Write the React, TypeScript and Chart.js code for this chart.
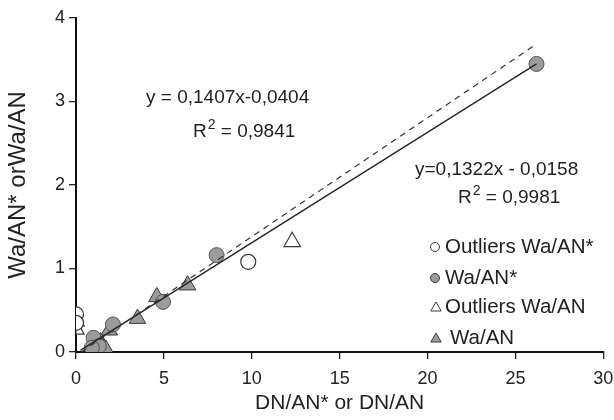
import React, { useEffect, useRef } from "react";
import { Chart, registerables } from "chart.js";

Chart.register(...registerables);

const outliersWaANStar = [
  { x: 0, y: 0.45 },
  { x: 0, y: 0.35 },
  { x: 9.8, y: 1.08 },
];
const waANStar = [
  { x: 26.2, y: 3.45 },
  { x: 8.0, y: 1.16 },
  { x: 4.95, y: 0.6 },
  { x: 2.1, y: 0.33 },
  { x: 1.0, y: 0.17 },
  { x: 1.3, y: 0.07 },
  { x: 0.9, y: 0.05 },
];
const outliersWaAN = [
  { x: 0, y: 0.27 },
  { x: 0, y: 0.37 },
  { x: 12.3, y: 1.32 },
];
const waAN = [
  { x: 6.35, y: 0.8 },
  { x: 4.6, y: 0.66 },
  { x: 3.5, y: 0.4 },
  { x: 1.9, y: 0.26 },
  { x: 1.4, y: 0.12 },
  { x: 1.5, y: 0.06 },
  { x: 1.1, y: 0.04 },
  { x: 1.7, y: 0.03 },
];
const fitSolid = [
  { x: 0.25, y: 0.02 },
  { x: 26.2, y: 3.45 },
];
const fitDashed = [
  { x: 0.3, y: 0.0 },
  { x: 26.0, y: 3.66 },
];
const eqLeft = "y = 0,1407x-0,0404";
const r2Left = "0,9841";
const eqRight = "y=0,1322x - 0,0158";
const r2Right = "0,9981";
const legendLabels = ["Outliers Wa/AN*", "Wa/AN*", "Outliers Wa/AN", "Wa/AN"];
const xTitle = "DN/AN* or DN/AN";
const yTitle = "Wa/AN* orWa/AN";

const FONT = "'Liberation Sans', Arial, Helvetica, sans-serif";
const GREY = "#9b9b9b";
const EDGE = "#3a3a3a";

export default function App() {
  const ref = useRef<HTMLCanvasElement | null>(null);
  useEffect(() => {
    document.body.style.margin = "0";
    const canvas = ref.current!;
    const drawR2 = (ctx: CanvasRenderingContext2D, x: number, y: number, val: string) => {
      ctx.font = `19px ${FONT}`;
      ctx.textBaseline = "middle";
      ctx.textAlign = "left";
      ctx.fillText("R", x, y);
      const w = ctx.measureText("R").width;
      ctx.font = `14px ${FONT}`;
      ctx.fillText("2", x + w + 1, y - 7);
      const w2 = ctx.measureText("2").width;
      ctx.font = `19px ${FONT}`;
      ctx.fillText(" = " + val, x + w + w2 + 1, y);
    };
    const textPlugin = {
      id: "texts",
      afterDraw(chart: any) {
        const ctx = chart.ctx as CanvasRenderingContext2D;
        ctx.save();
        ctx.fillStyle = "#222";
        ctx.font = `19px ${FONT}`;
        ctx.textBaseline = "middle";
        ctx.textAlign = "left";
        ctx.fillText(eqLeft, 146, 98);
        drawR2(ctx, 193, 132, r2Left);
        ctx.font = `19px ${FONT}`;
        ctx.fillText(eqRight, 415, 170);
        drawR2(ctx, 458, 198, r2Right);
        const ys = [247, 278, 307, 338];
        const styles = [
          { s: "circle", bg: "#fff", r: 4.5 },
          { s: "circle", bg: GREY, r: 4.5 },
          { s: "triangle", bg: "#fff", r: 6 },
          { s: "triangle", bg: GREY, r: 6 },
        ];
        legendLabels.forEach((lab, i) => {
          const st = styles[i];
          ctx.save();
          ctx.fillStyle = st.bg;
          ctx.strokeStyle = EDGE;
          ctx.lineWidth = 1;
          ctx.beginPath();
          if (st.s === "circle") {
            ctx.arc(435, ys[i], st.r, 0, Math.PI * 2);
          } else {
            const cx = 436, cy = ys[i] + 1;
            for (let k = 0; k < 3; k++) {
              const a = (k * 2 * Math.PI) / 3;
              const px = cx + Math.sin(a) * st.r;
              const py = cy - Math.cos(a) * st.r;
              if (k === 0) ctx.moveTo(px, py);
              else ctx.lineTo(px, py);
            }
            ctx.closePath();
          }
          ctx.fill();
          ctx.stroke();
          ctx.restore();
          ctx.fillStyle = "#222";
          ctx.font = `20.5px ${FONT}`;
          ctx.fillText(lab, i < 3 ? 445 : 450, ys[i]);
        });
        ctx.restore();
      },
    };
    const chart = new Chart(canvas, {
      type: "scatter",
      data: {
        datasets: [
          {
            type: "line",
            data: fitDashed,
            borderColor: "#333",
            borderWidth: 1.2,
            borderDash: [6, 5],
            pointRadius: 0,
            fill: false,
          },
          {
            type: "line",
            data: fitSolid,
            borderColor: "#222",
            borderWidth: 1.3,
            pointRadius: 0,
            fill: false,
          },
          {
            data: waANStar,
            pointStyle: "circle",
            pointRadius: 7.5,
            backgroundColor: GREY,
            borderColor: "#555",
            borderWidth: 1,
          },
          {
            data: waAN,
            pointStyle: "triangle",
            pointRadius: 9.5,
            backgroundColor: GREY,
            borderColor: EDGE,
            borderWidth: 1,
          },
          {
            data: outliersWaANStar,
            pointStyle: "circle",
            pointRadius: 7.5,
            backgroundColor: "#fff",
            borderColor: EDGE,
            borderWidth: 1.2,
          },
          {
            data: outliersWaAN,
            pointStyle: "triangle",
            pointRadius: 9.5,
            backgroundColor: "rgba(255,255,255,0.6)",
            borderColor: EDGE,
            borderWidth: 1.2,
          },
        ],
      },
      options: {
        responsive: false,
        animation: false,
        layout: { padding: { top: 18, right: 10, left: 0, bottom: 0 } },
        plugins: { legend: { display: false }, tooltip: { enabled: false } },
        scales: {
          x: {
            type: "linear",
            min: 0,
            max: 30,
            ticks: { stepSize: 5, color: "#222", font: { family: FONT, size: 18 }, padding: 9 },
            grid: { drawOnChartArea: false, tickLength: 7, color: "#222", lineWidth: 1.3 },
            border: { color: "#111", width: 2 },
            title: { display: true, text: xTitle, color: "#222", font: { family: FONT, size: 21 }, padding: { top: 2 } },
            afterFit(scale: any) {
              scale.height = 68;
              scale.paddingRight = 0;
              scale.paddingLeft = 0;
            },
          },
          y: {
            type: "linear",
            min: 0,
            max: 4,
            ticks: { stepSize: 1, color: "#222", font: { family: FONT, size: 18 }, padding: 4 },
            grid: { drawOnChartArea: false, tickLength: 7, color: "#222", lineWidth: 1.3 },
            border: { color: "#111", width: 2 },
            title: { display: true, text: yTitle, color: "#222", font: { family: FONT, size: 24 }, padding: { bottom: 2 } },
            afterFit(scale: any) {
              scale.width = 76;
            },
          },
        },
      },
      plugins: [textPlugin],
    } as any);
    return () => chart.destroy();
  }, []);
  return <canvas ref={ref} width={614} height={420} style={{ display: "block" }} />;
}
